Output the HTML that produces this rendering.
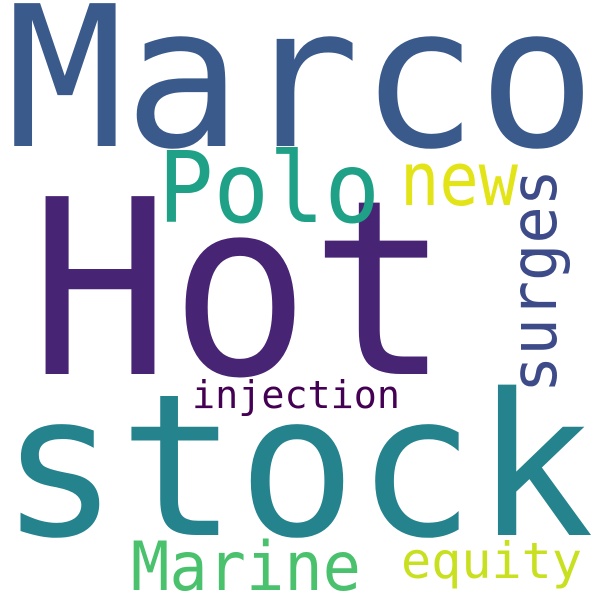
<!DOCTYPE html>
<html><head><meta charset="utf-8"><style>
html,body{margin:0;padding:0;background:#fff}
svg{display:block}
text{font-family:"DejaVu Sans Mono","Liberation Mono",monospace}
</style></head><body>
<svg width="600" height="600" viewBox="0 0 600 600">
<rect width="600" height="600" fill="#fff"/>
<text x="6" y="146" font-size="196" fill="#3b5a8c" textLength="590" lengthAdjust="spacingAndGlyphs">Marco</text>
<text x="30" y="374" font-size="244" fill="#482474" textLength="420" lengthAdjust="spacingAndGlyphs">Hot</text>
<text x="0" y="535" font-size="198" fill="#25838e" textLength="594" lengthAdjust="spacingAndGlyphs">stock</text>
<text x="158" y="222" font-size="98" fill="#1fa187" textLength="222" lengthAdjust="spacingAndGlyphs">Polo</text>
<text x="400" y="205" font-size="74" fill="#e2e418" textLength="118" lengthAdjust="spacingAndGlyphs">new</text>
<text transform="translate(556,393) rotate(-90)" x="0" y="0" font-size="64" fill="#3e4b89" textLength="224" lengthAdjust="spacingAndGlyphs">surges</text>
<text x="192" y="408" font-size="38" fill="#440154" textLength="208" lengthAdjust="spacingAndGlyphs">injection</text>
<text x="131" y="590" font-size="68" fill="#4ac16d" textLength="230" lengthAdjust="spacingAndGlyphs">Marine</text>
<text x="401" y="578" font-size="50" fill="#c8e020" textLength="181" lengthAdjust="spacingAndGlyphs">equity</text>
</svg>
</body></html>
